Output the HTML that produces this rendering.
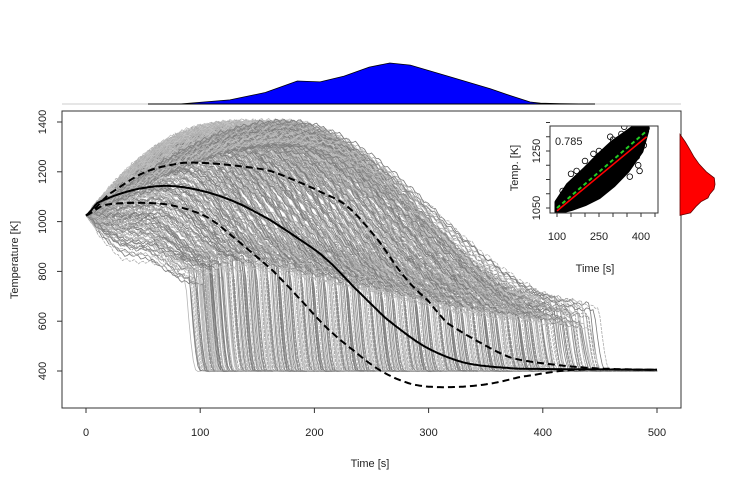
<!DOCTYPE html>
<html><head><meta charset="utf-8"><style>
html,body{margin:0;padding:0;background:#fff;}
svg{display:block;font-family:"Liberation Sans",Arial,sans-serif;}
</style></head><body>
<svg id="c" width="750" height="486" viewBox="0 0 750 486" xmlns="http://www.w3.org/2000/svg">
<defs><clipPath id="ic"><rect x="550" y="126" width="108" height="87"/></clipPath></defs>
<g id="curves"></g>
<g id="stats"></g>
<rect x="62" y="111" width="619" height="297" fill="none" stroke="#333" stroke-width="1"/>
<line x1="62" y1="104" x2="681" y2="104" stroke="#ccc" stroke-width="1"/>
<g id="topd"></g>
<g id="rightd"></g>
<g id="axes"></g>
<text x="370" y="467" font-size="11" text-anchor="middle" fill="#222">Time [s]</text>
<text transform="translate(18,260) rotate(-90)" font-size="11" text-anchor="middle" fill="#222">Temperature [K]</text>
<g id="inset"></g>
</svg>
<script>
// ---- data ----
const meanT=[0,10,30,50,73,100,130,160,185,209,235,263,296,330,370,400,500];
const meanV=[1025,1075,1112,1135,1143,1125,1080,1010,935,855,735,610,500,435,412,408,405];
const upT=[0,20,50,80,100,130,160,182,205,229,255,279,300,316,346,373,413,450,500];
const upV=[1025,1110,1195,1232,1236,1225,1205,1167,1120,1060,930,778,680,593,512,452,424,410,405];
const loT=[0,15,40,73,106,135,163,185,210,235,257,280,300,330,355,380,424,500];
const loV=[1025,1065,1075,1067,1018,915,806,700,577,480,404,355,337,337,350,376,404,405];
const dropTimes=[95,98,100,103,106,110,114,118,122,127,132,137,142,147,152,157,162,167,172,177,182,187,192,197,202,207,212,217,222,227,232,237,242,247,252,257,262,267,272,277,282,287,292,297,302,307,312,317,322,327,332,337,342,347,352,357,362,367,372,377,382,387,392,397,402,410,418,425,432,440];
const peakTemps=[900,960,930,990,1040,970,1060,1010,1100,1050,1140,1090,1170,1130,1200,1150,1230,1190,1250,1210,1280,1230,1300,1260,1310,1270,1330,1290,1340,1300,1350,1310,1360,1320,1370,1330,1375,1340,1380,1345,1380,1350,1385,1355,1385,1360,1385,1365,1380,1370,1385,1360,1380,1365,1385,1370,1380,1360,1385,1370,1380,1365,1385,1375,1380,1370,1385,1375,1380,1385];
const endTemps=[800,830,800,840,860,820,860,830,880,850,890,850,890,860,890,850,880,840,870,840,860,830,850,820,840,810,830,800,820,790,810,780,800,770,790,760,780,750,770,740,760,730,750,720,740,710,730,700,720,690,710,680,700,680,690,670,690,660,680,660,670,650,670,650,660,640,650,640,630,620];
const topDensT=[55,82,126,157,185,205,226,248,266,284,319,354,372,389,398,415,440];
const topDensV=[0,0,0.1,0.28,0.56,0.54,0.68,0.9,1.0,0.95,0.66,0.37,0.2,0.05,0.02,0.01,0];
const rDensT=[1025,1035,1060,1080,1095,1110,1130,1150,1175,1200,1230,1260,1290,1320,1340,1350];
const rDensV=[0,0.3,0.45,0.6,0.8,0.85,0.97,1.0,0.98,0.75,0.55,0.4,0.28,0.15,0.05,0];
const xTicks=[0,100,200,300,400,500];
const yTicks=[400,600,800,1000,1200,1400];
const insetBlobX=[100,140,200,250,300,350,400,420,420,400,350,300,250,200,150,100];
const insetBlobY=[1070,1130,1185,1235,1280,1315,1350,1370,1320,1250,1180,1130,1090,1065,1048,1035];
const outX=[380,395,405,410,415,400,370,350,390,420,330,300,250,200,150,120,360,385,410,340,290,230,170,130,395,420];
const outY=[1345,1365,1340,1375,1360,1300,1320,1290,1200,1380,1310,1290,1250,1215,1170,1110,1160,1230,1270,1335,1300,1240,1180,1060,1180,1330];
const insXTicks=[100,150,200,250,300,350,400,450];
const insXLabels=[100,250,400];
const insYTicks=[1050,1100,1150,1200,1250,1300,1350];
const insYLabels=[1050,1250];
const fitA=[100,420], fitRed=[1040,1300], fitGreen=[1050,1320];
// ---- scales ----
const X=t=>86+t*1.142, Y=v=>122+(1400-v)*0.249;
const IX=t=>557+(t-100)*0.28, IY=v=>208-(v-1050)*0.285;
const NS="http://www.w3.org/2000/svg";
function mk(tag,attrs,parent){const e=document.createElementNS(NS,tag);for(const k in attrs)e.setAttribute(k,attrs[k]);parent.appendChild(e);return e;}
function smoothPath(ts,vs,sx,sy){let d="";const a=ts[0],b=ts[ts.length-1];const n=ts.length;
 function cr(t){let i=1;while(i<n-1&&t>ts[i])i++;const p0=vs[Math.max(i-2,0)],p1=vs[i-1],p2=vs[i],p3=vs[Math.min(i+1,n-1)];const f=(t-ts[i-1])/(ts[i]-ts[i-1]);
  return 0.5*((2*p1)+(-p0+p2)*f+(2*p0-5*p1+4*p2-p3)*f*f+(-p0+3*p1-3*p2+p3)*f*f*f);}
 for(let t=a;t<=b;t+=2){d+=(t===a?"M":"L")+sx(t).toFixed(1)+","+sy(cr(t)).toFixed(1);}return d;}
// gray curves
const cg=document.getElementById('curves');
const cols=["#acacac","#858585","#c2c2c2","#979797","#b5b5b5","#7a7a7a"];
const variants=[[0,0,0],[-4,-25,-30],[5,20,25],[9,-10,40],[-8,15,-20],[2,-40,-50],[-2,-60,10]];
for(let k=0;k<dropTimes.length;k++){
 for(let v=0;v<variants.length;v++){
 const D=dropTimes[k]+variants[v][0],P=peakTemps[k]+variants[v][1],E=endTemps[k]+variants[v][2];const tp=Math.min(0.45*D,175);
 let d="";
 for(let t=0;t<=500;t+=2){let val;
  const jit=(t>4&&t<D)?6*Math.sin(t*0.9+k*1.7+v*2.3)+4*Math.sin(t*0.37+v+k):0;
  if(t<tp)val=1025+(P-1025)*Math.sin(Math.PI/2*t/tp)+jit;
  else if(t<D)val=P-(P-E)*(1-Math.cos(Math.PI*(t-tp)/(D-tp)))/2+jit;
  else if(t<D+10){const f=(t-D)/10;val=E-(E-400)*Math.sin(Math.PI/2*f);}
  else val=400+2*Math.sin(t*0.5+k);
  d+=(t===0?"M":"L")+X(t).toFixed(1)+","+Y(val).toFixed(1);}
 const p=mk('path',{d:d,fill:"none",stroke:cols[(k+v)%cols.length],"stroke-width":v===0?1.1:0.8,"stroke-dasharray":(k+v)%3===0?"3,1":"none"},cg);
 
 
 }
}
const sg=document.getElementById('stats');
const m=mk('path',{d:smoothPath(meanT,meanV,X,Y),fill:"none",stroke:"#000","stroke-width":2},sg);


const u=mk('path',{d:smoothPath(upT,upV,X,Y),fill:"none",stroke:"#000","stroke-width":2,"stroke-dasharray":"7,4"},sg);


const l=mk('path',{d:smoothPath(loT,loV,X,Y),fill:"none",stroke:"#000","stroke-width":2,"stroke-dasharray":"7,4"},sg);


// top density
const tg=document.getElementById('topd');
let td="M"+X(topDensT[0])+",104";for(let i=0;i<topDensT.length;i++)td+="L"+X(topDensT[i]).toFixed(1)+","+(104-41*topDensV[i]).toFixed(1);td+="L"+X(topDensT[topDensT.length-1])+",104Z";
const tp_=mk('path',{d:td,fill:"#0000ff",stroke:"#000","stroke-width":0.8},tg);


const tl=mk('line',{x1:148,y1:104,x2:595,y2:104,stroke:"#000","stroke-width":1},tg);


// right density
const rg=document.getElementById('rightd');
let rd="M680,"+Y(rDensT[0]).toFixed(1);for(let i=0;i<rDensT.length;i++)rd+="L"+(680+35*rDensV[i]).toFixed(1)+","+Y(rDensT[i]).toFixed(1);rd+="L680,"+Y(rDensT[rDensT.length-1]).toFixed(1)+"Z";
const rp=mk('path',{d:rd,fill:"#ff0000",stroke:"#600","stroke-width":0.8},rg);


// axes
const ag=document.getElementById('axes');
xTicks.forEach(t=>{const ln=mk('line',{x1:X(t),y1:408,x2:X(t),y2:413,stroke:"#333"},ag);
 
 
 const tx=mk('text',{x:X(t),y:436,"font-size":11,"text-anchor":"middle",fill:"#222"},ag);tx.textContent=t;
 
 });
yTicks.forEach(v=>{const ln=mk('line',{x1:57,y1:Y(v),x2:62,y2:Y(v),stroke:"#333"},ag);
 
 
 const tx=mk('text',{transform:"translate(46,"+Y(v)+") rotate(-90)","font-size":11,"text-anchor":"middle",fill:"#222"},ag);tx.textContent=v;
 
 });
// inset
const ig=document.getElementById('inset');
mk('rect',{x:550,y:126,width:108,height:87,fill:"#fff",stroke:"none"},ig);
let bd="";for(let i=0;i<insetBlobX.length;i++)bd+=(i?"L":"M")+IX(insetBlobX[i]).toFixed(1)+","+IY(insetBlobY[i]).toFixed(1);bd+="Z";
const bl=mk('path',{d:bd,fill:"#000",stroke:"#000","stroke-width":5,"stroke-linejoin":"round","clip-path":"url(#ic)"},ig);


for(let i=0;i<outX.length;i++){const c=mk('circle',{cx:IX(outX[i]),cy:IY(outY[i]),r:2.8,fill:"none",stroke:"#000","stroke-width":0.8,"clip-path":"url(#ic)"},ig);
 
 }
const g1=mk('line',{x1:IX(fitA[0]),y1:IY(fitGreen[0]),x2:IX(fitA[1]),y2:IY(fitGreen[1]),stroke:"#22cc22","stroke-width":2,"stroke-dasharray":"4,3"},ig);


const r1=mk('line',{x1:IX(fitA[0]),y1:IY(fitRed[0]),x2:IX(fitA[1]),y2:IY(fitRed[1]),stroke:"#ff0000","stroke-width":1.6},ig);


const ifr=mk('rect',{x:550,y:126,width:108,height:87,fill:"none",stroke:"#333"},ig);


insXTicks.forEach(t=>{const ln=mk('line',{x1:IX(t),y1:213,x2:IX(t),y2:217,stroke:"#333"},ig);
 
 });
insXLabels.forEach(t=>{const tx=mk('text',{x:IX(t),y:240,"font-size":11,"text-anchor":"middle",fill:"#222"},ig);tx.textContent=t;
 
 });
insYTicks.forEach(v=>{const ln=mk('line',{x1:546,y1:IY(v),x2:550,y2:IY(v),stroke:"#333"},ig);
 
 });
insYLabels.forEach(v=>{const tx=mk('text',{transform:"translate(540,"+IY(v)+") rotate(-90)","font-size":11,"text-anchor":"middle",fill:"#222"},ig);tx.textContent=v;
 
 });
const it=mk('text',{x:595,y:272,"font-size":11,"text-anchor":"middle",fill:"#222"},ig);it.textContent="Time [s]";


const iy=mk('text',{transform:"translate(518,168) rotate(-90)","font-size":11,"text-anchor":"middle",fill:"#222"},ig);iy.textContent="Temp. [K]";


const cr=mk('text',{x:555,y:145,"font-size":11,fill:"#222"},ig);cr.textContent="0.785";


</script>
</body></html>
